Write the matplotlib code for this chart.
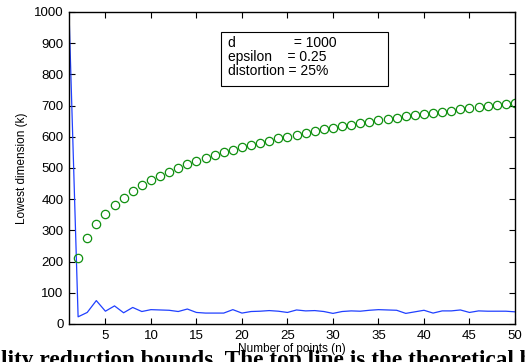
import matplotlib
matplotlib.use("Agg")
import matplotlib.pyplot as plt
from matplotlib.patches import Rectangle

plt.rcParams['font.family'] = ['Liberation Sans', 'DejaVu Sans']

# experimental lowest dimension, n = 1..50
n_exp = list(range(1, 51))
k_exp = [1000, 23, 37, 75, 41, 58, 36, 53, 40, 46,
         45, 44, 40, 48, 37, 35, 35, 35, 46, 35,
         40, 41, 43, 41, 37, 45, 42, 43, 40, 34,
         40, 42, 41, 44, 46, 45, 44, 34, 39, 44,
         35, 42, 42, 45, 37, 42, 41, 41, 41, 39]

# theoretical bound, n = 2..50
n_th = list(range(2, 51))
k_th = [212.9, 275.2, 319.4, 353.7, 381.7, 405.4, 425.9, 444.0, 460.1,
        474.8, 488.2, 500.4, 511.8, 522.4, 532.3, 541.7, 550.4, 558.7, 566.6,
        574.1, 581.3, 588.1, 594.6, 600.9, 606.9, 612.7, 618.3, 623.7, 628.9,
        633.9, 638.8, 643.5, 648.1, 652.6, 656.9, 661.1, 665.2, 669.2, 673.1,
        676.9, 680.6, 684.2, 687.7, 691.2, 694.5, 697.9, 701.1, 704.3, 707.4]

info_lines = ["d               = 1000", "epsilon    = 0.25", "distortion = 25%"]
caption = "lity reduction bounds. The top line is the theoretical bound"

fig = plt.figure(figsize=(5.25, 3.62), dpi=100)
ax = fig.add_axes([69/525, 1 - 324/362, (515 - 69)/525, (324 - 12)/362])

ax.plot(n_exp, k_exp, color='#2040ff', lw=0.9)
ax.plot(n_th, k_th, 'o', mfc='none', mec='#109010', ms=6, mew=0.9)

ax.set_xlim(1, 50)
ax.set_ylim(0, 1000)
ax.set_xticks(range(5, 51, 5))
ax.set_yticks(range(0, 1001, 100))
ax.tick_params(direction='in', top=True, right=True, labelsize=9.5, length=4, pad=4)
for s in ax.spines.values():
    s.set_linewidth(1.0)
ax.set_xlabel("Number of points (n)", fontsize=8.5, labelpad=1)
ax.set_ylabel("Lowest dimension (k)", fontsize=8.5, labelpad=4)

# parameter box
ax.add_patch(Rectangle((0.341, 0.763), 0.374, 0.173, transform=ax.transAxes,
                       fc='white', ec='black', lw=0.8, zorder=3))
for i, line in enumerate(info_lines):
    ax.text(0.3565, 0.9006 - i * 0.0449, line, transform=ax.transAxes,
            ha='left', va='center', fontsize=10, zorder=4)

# caption of the page, cut off by the bottom edge
fig.text(0.002, -0.011, caption, ha='left', va='baseline',
         fontsize=16.8, fontweight='bold', family='Liberation Serif')

fig.savefig("out.png", dpi=100)
